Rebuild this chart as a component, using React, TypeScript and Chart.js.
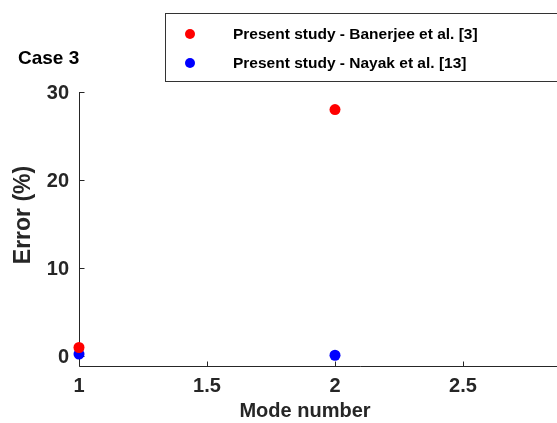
import React, { useEffect, useRef } from "react";
import { Chart, registerables } from "chart.js";

Chart.register(...registerables);

const modes = [1, 2];
const banerjeeError = [1.0, 28.0];
const nayakError = [0.25, 0.12];
const xTicks = [1, 1.5, 2, 2.5, 3];
const yTicks = [0, 10, 20, 30];
const seriesLabels = ["Present study - Banerjee et al. [3]", "Present study - Nayak et al. [13]"];
const seriesColors = ["#ff0000", "#0000ff"];

const FONT = "'Liberation Sans', Arial, sans-serif";
const AXIS = "#262626";

const axesPlugin = {
  id: "matlabAxes",
  beforeDatasetsDraw(chart: any) {
    const { ctx, chartArea } = chart;
    const xs = chart.scales.x;
    const ys = chart.scales.y;
    const L = Math.round(chartArea.left) + 0.5;
    const B = Math.round(chartArea.bottom) + 0.5;
    const T = Math.round(ys.getPixelForValue(yTicks[yTicks.length - 1]));
    ctx.save();
    ctx.strokeStyle = AXIS;
    ctx.lineWidth = 1;
    ctx.beginPath();
    ctx.moveTo(L, T);
    ctx.lineTo(L, B);
    ctx.lineTo(chart.width + 10, B);
    ctx.stroke();
    ctx.beginPath();
    for (const t of yTicks) {
      const p = Math.round(ys.getPixelForValue(t)) + 0.5;
      ctx.moveTo(L, p);
      ctx.lineTo(L + 5, p);
    }
    for (const t of xTicks) {
      const p = Math.round(xs.getPixelForValue(t)) + 0.5;
      ctx.moveTo(p, B);
      ctx.lineTo(p, B - 5);
    }
    ctx.stroke();
    ctx.restore();
  },
  afterDraw(chart: any) {
    const { ctx, chartArea } = chart;
    const xs = chart.scales.x;
    const ys = chart.scales.y;
    ctx.save();
    ctx.fillStyle = AXIS;
    ctx.font = `bold 20px ${FONT}`;
    ctx.textAlign = "right";
    ctx.textBaseline = "middle";
    for (const t of yTicks) {
      ctx.fillText(String(t), chartArea.left - 10, ys.getPixelForValue(t) + 1);
    }
    ctx.textAlign = "center";
    for (const t of xTicks) {
      ctx.fillText(String(t), xs.getPixelForValue(t), chartArea.bottom + 20);
    }
    ctx.fillText("Mode number", 305, chartArea.bottom + 45);
    ctx.save();
    ctx.translate(24, 215);
    ctx.rotate(-Math.PI / 2);
    ctx.font = `bold 23px ${FONT}`;
    ctx.fillText("Error (%)", 0, 0);
    ctx.restore();

    ctx.fillStyle = "#000";
    ctx.font = `bold 19px ${FONT}`;
    ctx.textAlign = "left";
    ctx.fillText("Case 3", 18, 59);

    // legend
    ctx.fillStyle = "#fff";
    ctx.fillRect(165.5, 13.5, chart.width, 68);
    ctx.strokeStyle = "#333";
    ctx.lineWidth = 1;
    ctx.strokeRect(165.5, 13.5, chart.width, 68);
    ctx.font = `bold 15.5px ${FONT}`;
    chart.data.datasets.forEach((ds: any, i: number) => {
      const y = 34 + i * 29;
      ctx.fillStyle = ds.backgroundColor;
      ctx.beginPath();
      ctx.arc(190, y, 5, 0, Math.PI * 2);
      ctx.fill();
      ctx.fillStyle = "#000";
      ctx.fillText(ds.label, 233, y + 1);
    });
    ctx.restore();
  },
};

export default function App() {
  const ref = useRef<HTMLCanvasElement | null>(null);
  useEffect(() => {
    if (!ref.current) return;
    const chart = new Chart(ref.current, {
      type: "scatter",
      data: {
        datasets: [
          {
            label: seriesLabels[0],
            data: modes.map((m, i) => ({ x: m, y: banerjeeError[i] })),
            backgroundColor: seriesColors[0],
            borderColor: seriesColors[0],
            pointRadius: 5.5,
            borderWidth: 0,
            clip: false as any,
          },
          {
            label: seriesLabels[1],
            data: modes.map((m, i) => ({ x: m, y: nayakError[i] })),
            backgroundColor: seriesColors[1],
            borderColor: seriesColors[1],
            pointRadius: 5.5,
            borderWidth: 0,
            clip: false as any,
          },
        ],
      },
      options: {
        responsive: false,
        animation: false,
        layout: { padding: { left: 79, top: 92, right: 49, bottom: 57 } },
        plugins: { legend: { display: false }, tooltip: { enabled: false } },
        scales: {
          x: { type: "linear", min: 1, max: 3, display: false },
          y: { type: "linear", min: -1.1, max: 30, display: false },
        },
      },
      plugins: [axesPlugin],
    });
    return () => chart.destroy();
  }, []);
  return (
    <div style={{ position: "fixed", left: 0, top: 0, width: 557, height: 423, overflow: "hidden", background: "#fff" }}>
      <canvas ref={ref} width={640} height={423} style={{ width: 640, height: 423, display: "block" }} />
    </div>
  );
}
